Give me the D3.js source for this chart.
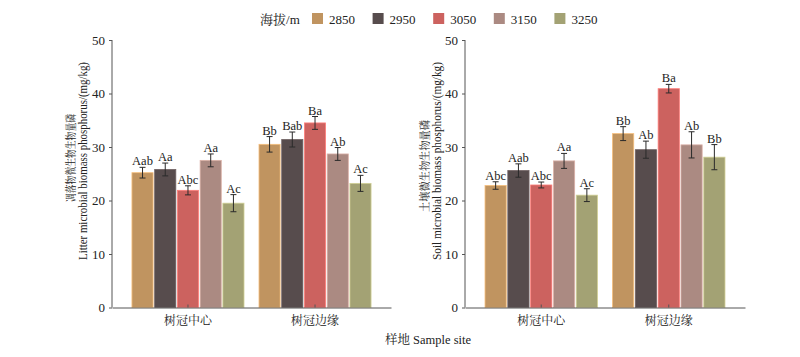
<!DOCTYPE html>
<html><head><meta charset="utf-8">
<script src="https://cdn.jsdelivr.net/npm/d3@7"></script>
<style>
body{margin:0;background:#fff;}
text{font-family:"Liberation Serif","Times New Roman",serif;fill:#222;}
.cjk{font-family:"Noto Serif CJK SC","Noto Sans CJK SC",serif;}
</style></head>
<body><svg id="c" width="800" height="357"></svg>
<script>
const categories = ["树冠中心", "树冠边缘"];
const altitudes = ["2850", "2950", "3050", "3150", "3250"];
const colors = ["#C09460", "#574C4D", "#CC625F", "#AB8A82", "#A3A274"];
const yTicks = [0, 10, 20, 30, 40, 50];

// Litter (left panel): values per category, per altitude
const litterMean = [[25.2, 25.8, 21.9, 27.5, 19.5], [30.5, 31.4, 34.5, 28.7, 23.2]];
const litterErr  = [[1.0, 1.2, 0.85, 1.2, 1.6], [1.45, 1.4, 1.2, 1.2, 1.5]];
const litterSig  = [["Aab", "Aa", "Abc", "Aa", "Ac"], ["Bb", "Bab", "Ba", "Ab", "Ac"]];

// Soil (right panel)
const soilMean = [[22.8, 25.6, 22.9, 27.4, 21.0], [32.5, 29.5, 40.9, 30.4, 28.1]];
const soilErr  = [[0.7, 1.25, 0.55, 1.4, 1.2], [1.3, 1.6, 0.8, 2.45, 2.35]];
const soilSig  = [["Abc", "Aab", "Abc", "Aa", "Ac"], ["Bb", "Ab", "Ba", "Ab", "Bb"]];

const svg = d3.select("#c");

function panel(x0, x1, mean, err, sig, labCn, labEn, cnX, cnLen, cnY, enX) {
  const y = d3.scaleLinear().domain([0, 50]).range([307.5, 40]);
  const x = d3.scaleBand().domain(categories).range([x0, x1]).paddingInner(0.118).paddingOuter(0.157);
  const xs = d3.scaleBand().domain(altitudes).range([0, x.bandwidth()]).paddingInner(0.07);
  const g = svg.append("g");

  categories.forEach((cat, ci) => {
    altitudes.forEach((alt, ai) => {
      const v = mean[ci][ai], e = err[ci][ai];
      const bx = x(cat) + xs(alt);
      const c = colors[ai];
      g.append("rect").attr("x", bx).attr("y", y(v)).attr("width", xs.bandwidth())
        .attr("height", y(0) - y(v)).attr("fill", c)
        .attr("stroke", d3.color(c).brighter(0.7)).attr("stroke-width", 0.8);
      const cx = bx + xs.bandwidth() / 2;
      g.append("line").attr("x1", cx).attr("x2", cx).attr("y1", y(v + e)).attr("y2", y(v - e))
        .attr("stroke", "#2a2a2a").attr("stroke-width", 1);
      [v + e, v - e].forEach(t => g.append("line").attr("x1", cx - 3).attr("x2", cx + 3)
        .attr("y1", y(t)).attr("y2", y(t)).attr("stroke", "#2a2a2a").attr("stroke-width", 1));
      g.append("text").attr("x", cx).attr("y", y(v + e) - 2).attr("text-anchor", "middle")
        .attr("font-size", 12.5).text(sig[ci][ai]);
    });
  });

  const ya = g.append("g").attr("transform", `translate(${x0},0)`)
    .call(d3.axisLeft(y).tickValues(yTicks).tickSize(3).tickPadding(4).tickFormat(d3.format("d")));
  ya.select(".domain").attr("stroke", "#555").attr("d", `M-0,${y(50)}V${y(0)}`);
  ya.selectAll(".tick line").attr("stroke", "#555");
  ya.selectAll("text").attr("font-size", 13).attr("fill", "#222")
    .attr("font-family", "Liberation Serif, serif");

  const xa = g.append("g").attr("transform", `translate(0,${y(0)})`)
    .call(d3.axisBottom(x).tickSizeInner(-3).tickSizeOuter(0).tickPadding(9));
  xa.select(".domain").attr("stroke", "#555");
  xa.selectAll(".tick line").attr("stroke", "#555");
  xa.selectAll("text").attr("font-size", 12).attr("fill", "#222").attr("class", "cjk")
    .attr("font-family", "Noto Serif CJK SC, Noto Sans CJK SC, serif");

  g.append("text").attr("class", "cjk").attr("transform", `translate(${cnX},${cnY}) rotate(-90)`)
    .attr("text-anchor", "middle").attr("font-size", 11)
    .attr("textLength", cnLen).attr("lengthAdjust", "spacingAndGlyphs").text(labCn);
  g.append("text").attr("transform", `translate(${enX},161) rotate(-90)`)
    .attr("text-anchor", "middle").attr("font-size", 12.5)
    .attr("textLength", 198).attr("lengthAdjust", "spacingAndGlyphs").text(labEn);
}

panel(112, 391, litterMean, litterErr, litterSig, "凋落物微生物生物量磷",
  "Litter microbial biomass phosphorus/(mg/kg)", 75, 88, 158, 87);
panel(465, 745, soilMean, soilErr, soilSig, "土壤微生物生物量磷",
  "Soil microbial biomass phosphorus/(mg/kg)", 429, 92, 166, 441);

svg.append("text").attr("x", 428).attr("y", 344).attr("text-anchor", "middle").attr("font-size", 12.5)
  .html('<tspan class="cjk" font-family="Noto Sans CJK SC">样地</tspan> Sample site');

const lg = svg.append("g");
lg.append("text").attr("x", 260).attr("y", 24).attr("font-size", 13)
  .html('<tspan class="cjk" font-family="Noto Sans CJK SC">海拔</tspan>/m');
altitudes.forEach((a, i) => {
  const lx = 312 + i * 60.6;
  lg.append("rect").attr("x", lx).attr("y", 13).attr("width", 11).attr("height", 11).attr("fill", colors[i]);
  lg.append("text").attr("x", lx + 17).attr("y", 23.5).attr("font-size", 13).text(a);
});
</script></body></html>
